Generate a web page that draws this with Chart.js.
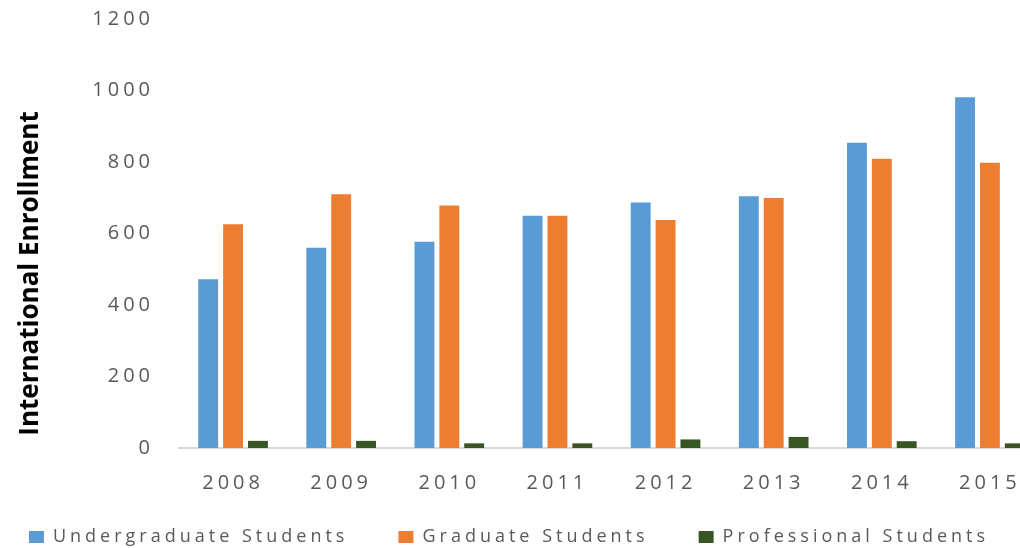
<!DOCTYPE html>
<html>
<head>
<meta charset="utf-8">
<script src="https://cdn.jsdelivr.net/npm/chart.js@4.4.1/dist/chart.umd.min.js"></script>
<style>
  html, body { margin: 0; padding: 0; overflow: hidden; background: #ffffff; width: 1020px; height: 548px; }
  #wrap { position: absolute; left: -26px; top: 0; width: 1070px; height: 556px; }
</style>
</head>
<body>
<div id="wrap"><canvas id="c"></canvas></div>
<script>
const years = ['2008', '2009', '2010', '2011', '2012', '2013', '2014', '2015'];
const undergraduate = [472, 560, 577, 650, 687, 704, 854, 981];
const graduate = [626, 710, 678, 650, 638, 699, 809, 798];
const professional = [20, 20, 13, 13, 24, 31, 19, 13];
const seriesNames = ['Undergraduate Students', 'Graduate Students', 'Professional Students'];
const yTicks = [0, 200, 400, 600, 800, 1000, 1200];

const spacingPlugin = {
  id: 'spacing',
  beforeLayout(chart) { chart.ctx.letterSpacing = '4px'; },
  beforeDraw(chart) { chart.ctx.letterSpacing = '4px'; },
  afterLayout(chart) {
    const s = chart.scales.y;
    if (s && !s._wrappedTitle) {
      const orig = s.drawTitle.bind(s);
      s.drawTitle = function () {
        const ctx = this.ctx;
        ctx.save();
        ctx.letterSpacing = '0px';
        ctx.translate(0, 40);
        orig();
        ctx.restore();
      };
      s._wrappedTitle = true;
    }
    const x = chart.scales.x;
    if (x) { x._computeLabelArea = () => undefined; }
  }
};

new Chart(document.getElementById('c'), {
  type: 'bar',
  data: {
    labels: years,
    datasets: [
      { label: seriesNames[0], data: undergraduate, backgroundColor: '#5B9BD5' },
      { label: seriesNames[1], data: graduate, backgroundColor: '#ED7D31' },
      { label: seriesNames[2], data: professional, backgroundColor: '#375623' }
    ]
  },
  options: {
    responsive: true,
    maintainAspectRatio: false,
    animation: false,
    datasets: { bar: { barPercentage: 0.8, categoryPercentage: 0.69 } },
    layout: { padding: { top: 19, right: 0, bottom: 0, left: 0 } },
    plugins: {
      tooltip: { enabled: false },
      legend: {
        position: 'bottom',
        align: 'center',
        labels: {
          boxWidth: 15,
          boxHeight: 12,
          padding: 50,
          color: '#595959',
          font: { family: 'Open Sans', size: 18 }
        }
      }
    },
    scales: {
      x: {
        grid: { display: false, drawTicks: false },
        border: { display: true, color: '#d9d9d9', width: 2 },
        ticks: { color: '#595959', padding: 23, font: { family: 'Open Sans', size: 20 } },
        afterFit(scale) { scale.height = 30; }
      },
      y: {
        min: 0,
        max: 1200,
        afterBuildTicks(scale) { scale.ticks = yTicks.map(v => ({ value: v })); },
        grid: { display: false, drawTicks: false },
        border: { display: false },
        ticks: {
          color: '#595959',
          padding: 25,
          font: { family: 'Open Sans', size: 20 },
          callback: (v) => String(v)
        },
        title: {
          display: true,
          text: 'International Enrollment',
          color: '#000000',
          padding: { top: 41, bottom: 0 },
          font: { family: "'Liberation Sans Narrow', 'Open Sans'", size: 26, weight: 'bold' }
        },
        afterFit(scale) { scale.width = 205; scale.paddingTop = 0; scale.paddingBottom = 0; }
      }
    }
  },
  plugins: [spacingPlugin]
});
</script>
</body>
</html>
